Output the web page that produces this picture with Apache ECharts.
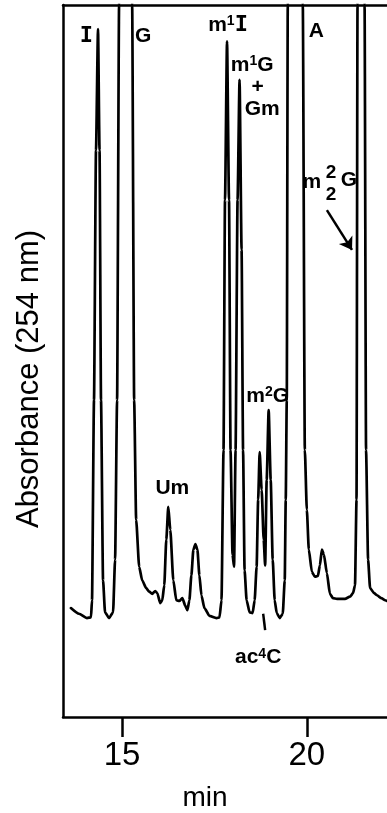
<!DOCTYPE html>
<html><head><meta charset="utf-8">
<script src="https://cdn.jsdelivr.net/npm/echarts@6/dist/echarts.min.js"></script>
<style>html,body{margin:0;padding:0;background:#fff}#c{width:387px;height:813px}</style>
</head><body><div id="c"></div>
<script>
// Retention time (min)
const timeMin = [13.614,13.832,14.049,14.158,14.185,14.239,14.293,14.348,14.389,14.429,
14.484,14.538,14.647,14.755,14.810,14.864,14.918,15.095,15.272,15.326,
15.380,15.462,15.543,15.652,15.734,15.815,15.897,15.951,16.033,16.087,
16.141,16.196,16.250,16.304,16.386,16.467,16.549,16.630,16.712,16.766,
16.821,16.875,16.929,16.984,17.038,17.092,17.147,17.228,17.364,17.554,
17.636,17.690,17.745,17.785,17.840,17.894,17.935,17.989,18.030,18.071,
18.125,18.179,18.234,18.274,18.315,18.370,18.451,18.533,18.587,18.641,
18.682,18.723,18.777,18.832,18.872,18.913,18.967,19.022,19.076,19.130,
19.185,19.266,19.348,19.402,19.429,19.457,19.484,19.688,19.891,19.946,
20.000,20.054,20.136,20.217,20.299,20.353,20.408,20.462,20.543,20.625,
20.707,20.815,21.033,21.168,21.250,21.304,21.345,21.372,21.467,21.563,
21.603,21.658,21.712,21.821,21.902,22.011,22.120,22.174];
// Absorbance at 254 nm (relative to full scale = 1)
const absorbance = [0.153,0.145,0.139,0.140,0.164,0.445,0.796,0.966,0.796,0.445,
0.192,0.147,0.139,0.147,0.221,0.445,1.000,1.8,1.000,0.445,
0.277,0.211,0.192,0.181,0.176,0.173,0.177,0.174,0.160,0.164,
0.185,0.249,0.295,0.263,0.192,0.164,0.163,0.167,0.156,0.150,
0.164,0.199,0.235,0.243,0.235,0.199,0.171,0.153,0.142,0.139,
0.140,0.164,0.375,0.726,0.949,0.726,0.375,0.228,0.211,0.375,
0.726,0.895,0.656,0.375,0.206,0.164,0.147,0.146,0.164,0.211,
0.305,0.372,0.319,0.249,0.213,0.333,0.431,0.333,0.221,0.164,
0.146,0.139,0.145,0.192,0.305,0.445,1.000,1.8,1.000,0.375,
0.291,0.235,0.204,0.197,0.198,0.213,0.235,0.228,0.202,0.173,
0.167,0.166,0.166,0.169,0.174,0.185,0.305,1.000,1.8,1.000,
0.375,0.221,0.181,0.174,0.171,0.167,0.164,0.163];
const xTicks = [15, 20];
// Peak annotations: text + anchor (time, absorbance)
const peakNames = ['I','G','m1I','m1G','+','Gm','A','m','22','G2','Um','m2G','ac4C'];
const peakTimes = [14.035,15.571,17.867,18.519,18.668,18.791,20.258,20.136,20.652,21.141,16.359,18.940,18.682];
const peakAbs =   [0.956,0.956,0.972,0.916,0.885,0.853,0.963,0.751,0.749,0.754,0.322,0.451,0.084];

const FONT = 'Liberation Sans';
const labFmt = {
  'I': '{mono|I}', 'G': '{a|G}', 'm1I': '{a|m}{s|1}{mono|I}', 'm1G': '{a|m}{s|1}{a|G}',
  '+': '{a|+}', 'Gm': '{a|Gm}', 'A': '{a|A}', 'm': '{a|m}', '22': '{st|2}\n{st|2}', 'G2': '{a|G}',
  'Um': '{a|Um}', 'm2G': '{a|m}{s|2}{a|G}', 'ac4C': '{a|ac}{s|4}{a|C}'
};
const rich = {
  a: {fontFamily: FONT, fontWeight: 'bold', fontSize: 21, color: '#000'},
  mono: {fontFamily: 'DejaVu Sans Mono', fontWeight: 'bold', fontSize: 22, color: '#000'},
  s: {fontFamily: FONT, fontWeight: 'bold', fontSize: 14, color: '#000', verticalAlign: 'top'},
  st: {fontFamily: FONT, fontWeight: 'bold', fontSize: 19, color: '#000', lineHeight: 22}
};

const chart = echarts.init(document.getElementById('c'), null, {renderer: 'canvas'});
const lineData = timeMin.map((t, i) => [t, absorbance[i]]);
const mpData = peakNames.map((n, i) => ({
  coord: [peakTimes[i], peakAbs[i]],
  label: {formatter: labFmt[n]}
}));
chart.setOption({
  animation: false,
  backgroundColor: '#fff',
  grid: {left: 63, right: 0, top: 5, bottom: 96, containLabel: false, outerBoundsMode: 'none'},
  xAxis: [{
    type: 'value', min: 13.4, max: 22.17, position: 'bottom',
    axisLine: {show: true, lineStyle: {color: '#000', width: 2.5}},
    axisTick: {show: true, customValues: xTicks, length: 20, lineStyle: {color: '#000', width: 2.5}},
    axisLabel: {show: true, customValues: xTicks, margin: 22, fontFamily: FONT, fontSize: 33, color: '#000'},
    splitLine: {show: false},
    name: 'min', nameLocation: 'middle', nameGap: 67,
    nameTextStyle: {fontFamily: FONT, fontSize: 28, color: '#000', padding: [0, 40, 0, 0]}
  }, {
    type: 'value', min: 13.4, max: 22.17, position: 'top',
    axisLine: {show: true, lineStyle: {color: '#000', width: 2.5}},
    axisTick: {show: false}, axisLabel: {show: false}, splitLine: {show: false}
  }],
  yAxis: {
    type: 'value', min: 0, max: 1,
    axisLine: {show: true, lineStyle: {color: '#000', width: 2.5}},
    axisTick: {show: false}, axisLabel: {show: false}, splitLine: {show: false},
    name: 'Absorbance (254 nm)', nameLocation: 'middle', nameGap: 18, nameRotate: 90,
    nameTextStyle: {fontFamily: FONT, fontSize: 31, color: '#000', padding: [0, 36, 0, 0]}
  },
  series: [{
    type: 'line', data: lineData, showSymbol: false, smooth: 0.2, smoothMonotone: 'x',
    clip: true,
    lineStyle: {color: '#000', width: 2.7, join: 'round', cap: 'round'},
    markPoint: {
      symbol: 'circle', symbolSize: 0, silent: true,
      label: {show: true, position: 'inside', rich: rich},
      data: mpData
    },
    markLine: {
      silent: true, label: {show: false},
      symbolSize: 12,
      data: [
        [{coord: [20.543, 0.712], symbol: 'none', lineStyle: {color: '#000', width: 2.5, type: 'solid', curveness: -0.3}},
         {coord: [21.223, 0.656], symbol: 'arrow'}],
        [{coord: [18.818, 0.145], symbol: 'none', lineStyle: {color: '#000', width: 2.5, type: 'solid'}},
         {coord: [18.872, 0.122], symbol: 'none'}]
      ]
    }
  }]
});
</script>
</body></html>
